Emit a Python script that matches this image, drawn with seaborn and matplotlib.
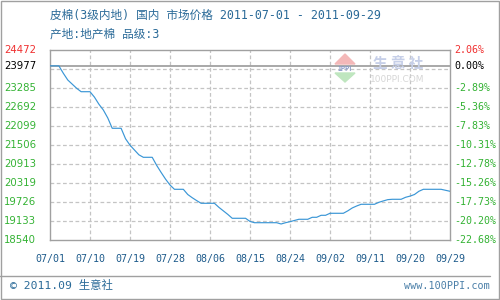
import matplotlib
matplotlib.use("Agg")
import matplotlib.pyplot as plt
import matplotlib.transforms as mtransforms
from matplotlib.patches import Rectangle, Polygon
from matplotlib.lines import Line2D
import seaborn as sns
import pandas as pd

# ---- data ----
dates = ["2011-07-01", "2011-07-03", "2011-07-04", "2011-07-05", "2011-07-07", "2011-07-08",
         "2011-07-10", "2011-07-11", "2011-07-12", "2011-07-13", "2011-07-14", "2011-07-15",
         "2011-07-17", "2011-07-18", "2011-07-19", "2011-07-20", "2011-07-21", "2011-07-22",
         "2011-07-24", "2011-07-25", "2011-07-26", "2011-07-27", "2011-07-28", "2011-07-29",
         "2011-07-31", "2011-08-01", "2011-08-02", "2011-08-03", "2011-08-04", "2011-08-07",
         "2011-08-08", "2011-08-09", "2011-08-10", "2011-08-11", "2011-08-14", "2011-08-15",
         "2011-08-16", "2011-08-21", "2011-08-22", "2011-08-23", "2011-08-24", "2011-08-25",
         "2011-08-26", "2011-08-28", "2011-08-29", "2011-08-30", "2011-08-31", "2011-09-01",
         "2011-09-02", "2011-09-05", "2011-09-06", "2011-09-07", "2011-09-08", "2011-09-09",
         "2011-09-12", "2011-09-13", "2011-09-14", "2011-09-15", "2011-09-16", "2011-09-18",
         "2011-09-19", "2011-09-20", "2011-09-21", "2011-09-22", "2011-09-23", "2011-09-27",
         "2011-09-28", "2011-09-29"]
prices = [23977, 23977, 23745, 23535, 23276, 23170,
          23170, 23000, 22780, 22599, 22350, 22028,
          22028, 21700, 21500, 21350, 21200, 21122,
          21122, 20870, 20650, 20440, 20257, 20123,
          20123, 19960, 19860, 19770, 19686, 19686,
          19560, 19450, 19340, 19218, 19218, 19120,
          19080, 19080, 19040, 19080, 19112, 19150,
          19187, 19187, 19249, 19249, 19311, 19311,
          19374, 19374, 19450, 19540, 19602, 19655,
          19655, 19717, 19760, 19800, 19811, 19811,
          19873, 19910, 19960, 20061, 20123, 20123,
          20092, 20061]

base_price = 23977
top_price = 24472
left_ticks = [18540, 19133, 19726, 20319, 20913, 21506, 22099, 22692, 23285]
grid_values = [18540, 19133, 19726, 20319, 20913, 21506, 22099, 22692, 23285, 23878]
right_labels = ["-22.68%", "-20.20%", "-17.73%", "-15.26%", "-12.78%", "-10.31%",
                "-7.83%", "-5.36%", "-2.89%"]
base_pct = "0.00%"
top_pct = "2.06%"
x_ticks = ["2011-07-01", "2011-07-10", "2011-07-19", "2011-07-28", "2011-08-06", "2011-08-15",
           "2011-08-24", "2011-09-02", "2011-09-11", "2011-09-20", "2011-09-29"]
x_labels = ["07/01", "07/10", "07/19", "07/28", "08/06", "08/15",
            "08/24", "09/02", "09/11", "09/20", "09/29"]
title1 = "皮棉(3级内地) 国内 市场价格 2011-07-01 - 2011-09-29"
title2 = "产地:地产棉 品级:3"
footer_left = "© 2011.09 生意社"
footer_right = "www.100PPI.com"

sns.set_style("white")
plt.rcParams['font.family'] = ['Noto Sans CJK SC', 'DejaVu Sans']
MIXED = ['DejaVu Sans Mono', 'Noto Sans CJK SC']

df = pd.DataFrame({"date": pd.to_datetime(dates), "price": prices})

W, H = 500, 300
fig = plt.figure(figsize=(5, 3), dpi=100)
fig.patch.set_facecolor("white")
ax = fig.add_axes([50 / W, 1 - 240 / H, 400 / W, 190 / H])

def fx(px):
    return px / W

def fy(py):
    return 1 - py / H

# grid
x_dates = pd.to_datetime(x_ticks)
for d in x_dates[1:-1]:
    ax.axvline(d, color="#c4c4c4", lw=0.9, ls=(0, (3, 2)), zorder=1)
for v in grid_values[1:]:
    ax.axhline(v, color="#c4c4c4", lw=0.9, ls=(0, (3, 2)), zorder=1)
ax.axhline(base_price, color="#999999", lw=1.2, zorder=2)

sns.lineplot(data=df, x="date", y="price", ax=ax, color="#3a96d6", lw=0.85, zorder=3)

ax.set_xlim(x_dates[0], x_dates[-1])
ax.set_ylim(left_ticks[0], top_price)
ax.set_xticks(x_dates)
ax.set_xticklabels(x_labels, family="DejaVu Sans Mono", fontsize=7.2, color="#1f5c8c")
ax.tick_params(axis="x", length=0, pad=10)
ax.set_yticks([])
ax.set_xlabel("")
ax.set_ylabel("")
for s in ax.spines.values():
    s.set_color("#a0a0a0")
    s.set_linewidth(1.0)

# y labels
trans = mtransforms.blended_transform_factory(fig.transFigure, ax.transData)
green = "#33b233"
for v, p in zip(left_ticks, right_labels):
    ax.text(fx(4), v, str(v), transform=trans, ha="left", va="center", fontsize=7.3,
            family="DejaVu Sans", color=green, clip_on=False)
    ax.text(fx(454), v, p, transform=trans, ha="left", va="center", fontsize=7.2,
            family="DejaVu Sans Mono", color=green, clip_on=False)
ax.text(fx(4), base_price, str(base_price), transform=trans, ha="left", va="center",
        fontsize=7.3, family="DejaVu Sans", color="black", clip_on=False)
ax.text(fx(454), base_price, base_pct, transform=trans, ha="left", va="center",
        fontsize=7.2, family="DejaVu Sans Mono", color="black", clip_on=False)
ax.text(fx(4), top_price, str(top_price), transform=trans, ha="left", va="center",
        fontsize=7.3, family="DejaVu Sans", color="#f03030", clip_on=False)
ax.text(fx(454), top_price, top_pct, transform=trans, ha="left", va="center",
        fontsize=7.2, family="DejaVu Sans Mono", color="#f03030", clip_on=False)

# titles
title_color = "#2a6a98"
fig.text(fx(50), fy(15), title1, ha="left", va="center", fontsize=8.4,
         color=title_color, family=MIXED)
fig.text(fx(50), fy(34.5), title2, ha="left", va="center", fontsize=8.4,
         color=title_color, family=MIXED)

# watermark
fig.patches.append(Polygon([[fx(335), fy(64)], [fx(355), fy(64)], [fx(345), fy(54)]],
                           closed=True, transform=fig.transFigure, color="#f4b8b8", zorder=0))
fig.patches.append(Polygon([[fx(335), fy(73)], [fx(355), fy(73)], [fx(345), fy(82)]],
                           closed=True, transform=fig.transFigure, color="#bfe6bf", zorder=0))
fig.text(fx(345), fy(68.5), "1PPI", ha="center", va="center", fontsize=4.5,
         color="#8a9ac8", weight="bold")
fig.text(fx(398), fy(63), "生 意 社", ha="center", va="center", fontsize=10.5,
         color="#c6cfe8", weight="bold")
fig.text(fx(397), fy(80), "100PPI.COM", ha="center", va="center", fontsize=6.5,
         color="#d6d6d6", family="DejaVu Sans")

# footer
fig.add_artist(Line2D([fx(0), fx(490)], [fy(276), fy(276)], transform=fig.transFigure,
                      color="#a0a0a0", lw=1.0))
fig.text(fx(10), fy(285.5), footer_left, ha="left", va="center", fontsize=8.2,
         color="#2a6a98", family=MIXED)
fig.text(fx(490), fy(286), footer_right, ha="right", va="center", fontsize=7.3,
         color="#4a7fa8", family="DejaVu Sans Mono")

# outer border
fig.patches.append(Rectangle((fx(0.5), fy(298.5)), fx(498), 298 / H, fill=False,
                             edgecolor="#a0a0a0", lw=1.0, transform=fig.transFigure))

fig.savefig("out.png", dpi=100, facecolor="white")
